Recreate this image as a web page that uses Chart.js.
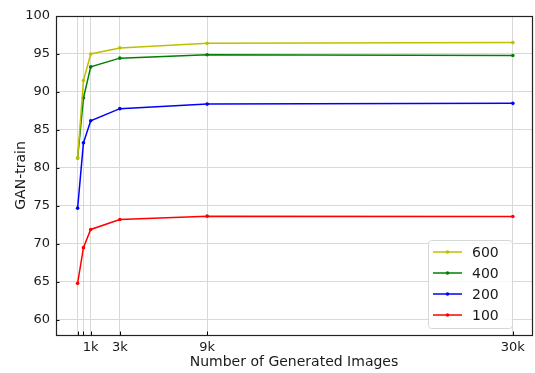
<!DOCTYPE html>
<html>
<head>
<meta charset="utf-8">
<script src="https://cdn.jsdelivr.net/npm/chart.js@4/dist/chart.umd.min.js"></script>
<style>
  html, body { margin: 0; padding: 0; background: #fff; }
  #wrap { width: 535px; height: 373px; position: relative; }
</style>
</head>
<body>
<div id="wrap"><canvas id="c" width="535" height="373"></canvas></div>
<script>
// ---- data ----
const xValues = [100, 500, 1000, 3000, 9000, 30000];
const xTickLabels = ['', '', '1k', '3k', '9k', '30k'];
const yTicks = [60, 65, 70, 75, 80, 85, 90, 95, 100];
const seriesNames = ['600', '400', '200', '100'];
const series600 = [81.3, 91.5, 95.0, 95.8, 96.4, 96.5];
const series400 = [81.3, 89.2, 93.3, 94.45, 94.9, 94.8];
const series200 = [74.7, 83.3, 86.2, 87.8, 88.4, 88.5];
const series100 = [64.8, 69.5, 71.9, 73.2, 73.65, 73.6];
const seriesColors = ['#bfbf00', '#008000', '#0000ff', '#ff0000'];

const allSeries = [series600, series400, series200, series100];
const datasets = allSeries.map((vals, i) => ({
  label: seriesNames[i],
  data: xValues.map((x, j) => ({ x: x, y: vals[j] })),
  borderColor: seriesColors[i],
  backgroundColor: seriesColors[i],
  borderWidth: 1.5,
  pointRadius: 1.8,
  pointHoverRadius: 1.8,
  pointBorderWidth: 0,
  tension: 0
}));

const FONT = "'DejaVu Sans', sans-serif";

const framePlugin = {
  id: 'frame',
  afterDraw(chart) {
    const { ctx, chartArea: a, scales } = chart;
    ctx.save();
    ctx.strokeStyle = '#000';
    ctx.lineWidth = 1;
    // inward tick marks
    ctx.beginPath();
    xValues.forEach(v => {
      const px = Math.round(scales.x.getPixelForValue(v)) + 0.5;
      ctx.moveTo(px, a.bottom); ctx.lineTo(px, a.bottom - 3.5);
    });
    yTicks.forEach(v => {
      const py = Math.round(scales.y.getPixelForValue(v)) + 0.5;
      ctx.moveTo(a.left, py); ctx.lineTo(a.left + 3.5, py);
    });
    ctx.stroke();
    ctx.lineWidth = 1.2;
    ctx.strokeStyle = '#222';
    ctx.strokeRect(Math.round(a.left) + 0.5, Math.round(a.top) + 0.5,
                   Math.round(a.right - a.left), Math.round(a.bottom - a.top));
    ctx.restore();
  }
};

const legendPlugin = {
  id: 'mplLegend',
  afterDraw(chart) {
    const { ctx } = chart;
    const ds = chart.data.datasets;
    const boxL = 428, boxT = 240, boxW = 84, boxH = 88;
    ctx.save();
    ctx.fillStyle = 'rgba(255,255,255,0.8)';
    ctx.strokeStyle = '#d6d6d6';
    ctx.lineWidth = 1;
    ctx.beginPath();
    if (ctx.roundRect) ctx.roundRect(boxL + 0.5, boxT + 0.5, boxW, boxH, 3);
    else ctx.rect(boxL + 0.5, boxT + 0.5, boxW, boxH);
    ctx.fill();
    ctx.stroke();
    ctx.font = '14px ' + FONT;
    ctx.textBaseline = 'middle';
    ctx.textAlign = 'left';
    ds.forEach((d, i) => {
      const y = boxT + 12 + i * 21;
      ctx.strokeStyle = d.borderColor;
      ctx.lineWidth = 1.5;
      ctx.beginPath();
      ctx.moveTo(boxL + 5, y); ctx.lineTo(boxL + 34, y);
      ctx.stroke();
      ctx.fillStyle = d.borderColor;
      ctx.beginPath();
      ctx.arc(boxL + 19.5, y, 1.8, 0, Math.PI * 2);
      ctx.fill();
      ctx.fillStyle = '#1a1a1a';
      ctx.fillText(d.label, boxL + 44, y + 1);
    });
    ctx.restore();
  }
};

new Chart(document.getElementById('c'), {
  type: 'line',
  data: { datasets },
  plugins: [framePlugin, legendPlugin],
  options: {
    responsive: false,
    animation: false,
    events: [],
    layout: { padding: { top: 16, right: 3, bottom: 0, left: 0 } },
    plugins: { legend: { display: false }, tooltip: { enabled: false } },
    scales: {
      x: {
        type: 'linear',
        min: -1385,
        max: 31316,
        afterBuildTicks(scale) { scale.ticks = xValues.map(v => ({ value: v })); },
        afterFit(scale) { scale.height = 38; },
        ticks: {
          autoSkip: false,
          maxRotation: 0,
          padding: 5,
          color: '#1a1a1a',
          font: { family: FONT, size: 13 },
          callback(value) { const i = xValues.indexOf(value); return i >= 0 ? xTickLabels[i] : ''; }
        },
        grid: { color: '#d9d9d9', lineWidth: 1, drawTicks: false },
        border: { display: false },
        title: {
          display: true,
          text: 'Number of Generated Images',
          color: '#1a1a1a',
          font: { family: FONT, size: 14 },
          padding: { top: 0, bottom: 2 }
        }
      },
      y: {
        min: 58,
        max: 100,
        afterBuildTicks(scale) { scale.ticks = yTicks.map(v => ({ value: v })); },
        afterFit(scale) { scale.width = 56; },
        ticks: {
          padding: 6,
          color: '#1a1a1a',
          font: { family: FONT, size: 13 }
        },
        grid: { color: '#d9d9d9', lineWidth: 1, drawTicks: false },
        border: { display: false },
        title: {
          display: true,
          text: 'GAN-train',
          color: '#1a1a1a',
          font: { family: FONT, size: 14 },
          padding: { top: 13, bottom: 0 }
        }
      }
    }
  }
});
</script>
</body>
</html>
